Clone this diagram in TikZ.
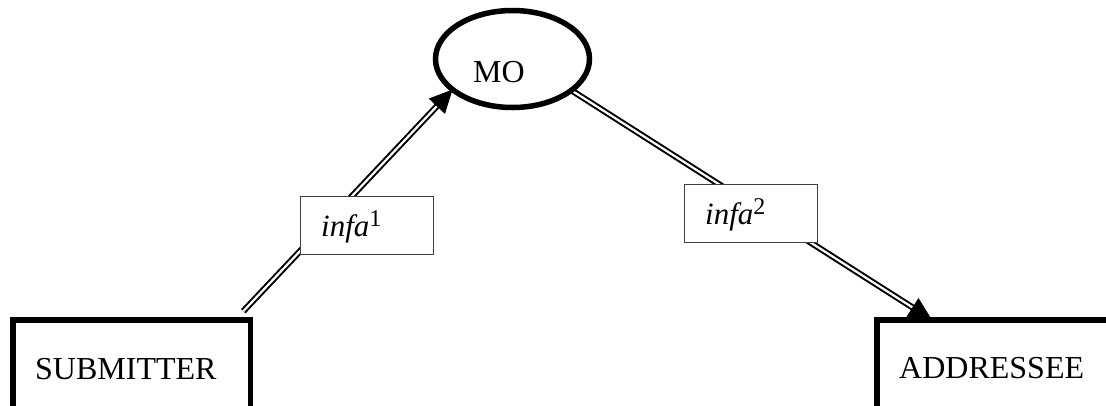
\documentclass[tikz,border=0pt]{standalone}
\usepackage{fontspec}
\setmainfont{Liberation Serif}
\usetikzlibrary{shapes.geometric,arrows.meta}
\pgfdeclarelayer{bg}
\pgfsetlayers{bg,main}
\begin{document}
\begin{tikzpicture}[x=1pt,y=-1pt,
  thickbox/.style={draw, line width=5.5pt, fill=white, rectangle, inner sep=0pt, outer sep=0pt},
  oval/.style={draw, ellipse, line width=5.5pt, fill=white, inner sep=0pt, outer sep=0pt, minimum width=154pt, minimum height=97pt},
  labelbox/.style={draw=black!75, line width=1.2pt, fill=white, inner sep=0pt, outer sep=0pt, minimum width=133pt, minimum height=58pt},
  txt/.style={inner sep=0pt, anchor=base west, font=\fontsize{32}{38}\selectfont},
  itxt/.style={inner sep=0pt, anchor=base west, font=\fontsize{31}{37}\selectfont\itshape},
  dbl/.style={draw, double, line width=2pt, double distance=2.2pt},
  tipline/.style={-{Triangle[length=23pt,width=22pt]}, line width=1pt}
]
\useasboundingbox (0,0) rectangle (1106,405);
\clip (0,0) rectangle (1106,405);

\node[oval] (mo) at (512.5,59) {};
\node[txt] (motext) at (473,82) {MO};

\node[thickbox, minimum width=237.5pt, minimum height=140pt] (sub) at (131.5,389.75) {};
\node[txt] (subtext) at (35,379) {SUBMITTER};

\node[thickbox, minimum width=273pt, minimum height=140pt] (add) at (1013.4,389.75) {};
\node[txt] (addtext) at (899,378) {ADDRESSEE};

\node[labelbox] (l1) at (367,225.5) {};
\node[itxt] (l1text) at (321,236) {infa\raisebox{9.5pt}{\upshape\fontsize{24}{24}\selectfont 1}};

\node[labelbox] (l2) at (751,213.5) {};
\node[itxt] (l2text) at (705,224) {infa\raisebox{9.5pt}{\upshape\fontsize{24}{24}\selectfont 2}};

\begin{pgfonlayer}{bg}
  \fill[white] (0,0) rectangle (1106,405);
  \coordinate (s1) at ([xshift=-7pt,yshift=8.5pt]sub.north east);
  \coordinate (e2) at ([xshift=55pt]add.north west);
  \draw[dbl, shorten >=16pt] (s1) -- (mo.207);
  \path (s1) -- (mo.207) coordinate[pos=0.97] (p1);
  \draw[tipline] (p1) -- (mo.207);
  \draw[dbl, shorten >=16pt] (mo.332) -- (e2);
  \path (mo.332) -- (e2) coordinate[pos=0.98] (p2);
  \draw[tipline] (p2) -- (e2);
\end{pgfonlayer}
\end{tikzpicture}
\end{document}
